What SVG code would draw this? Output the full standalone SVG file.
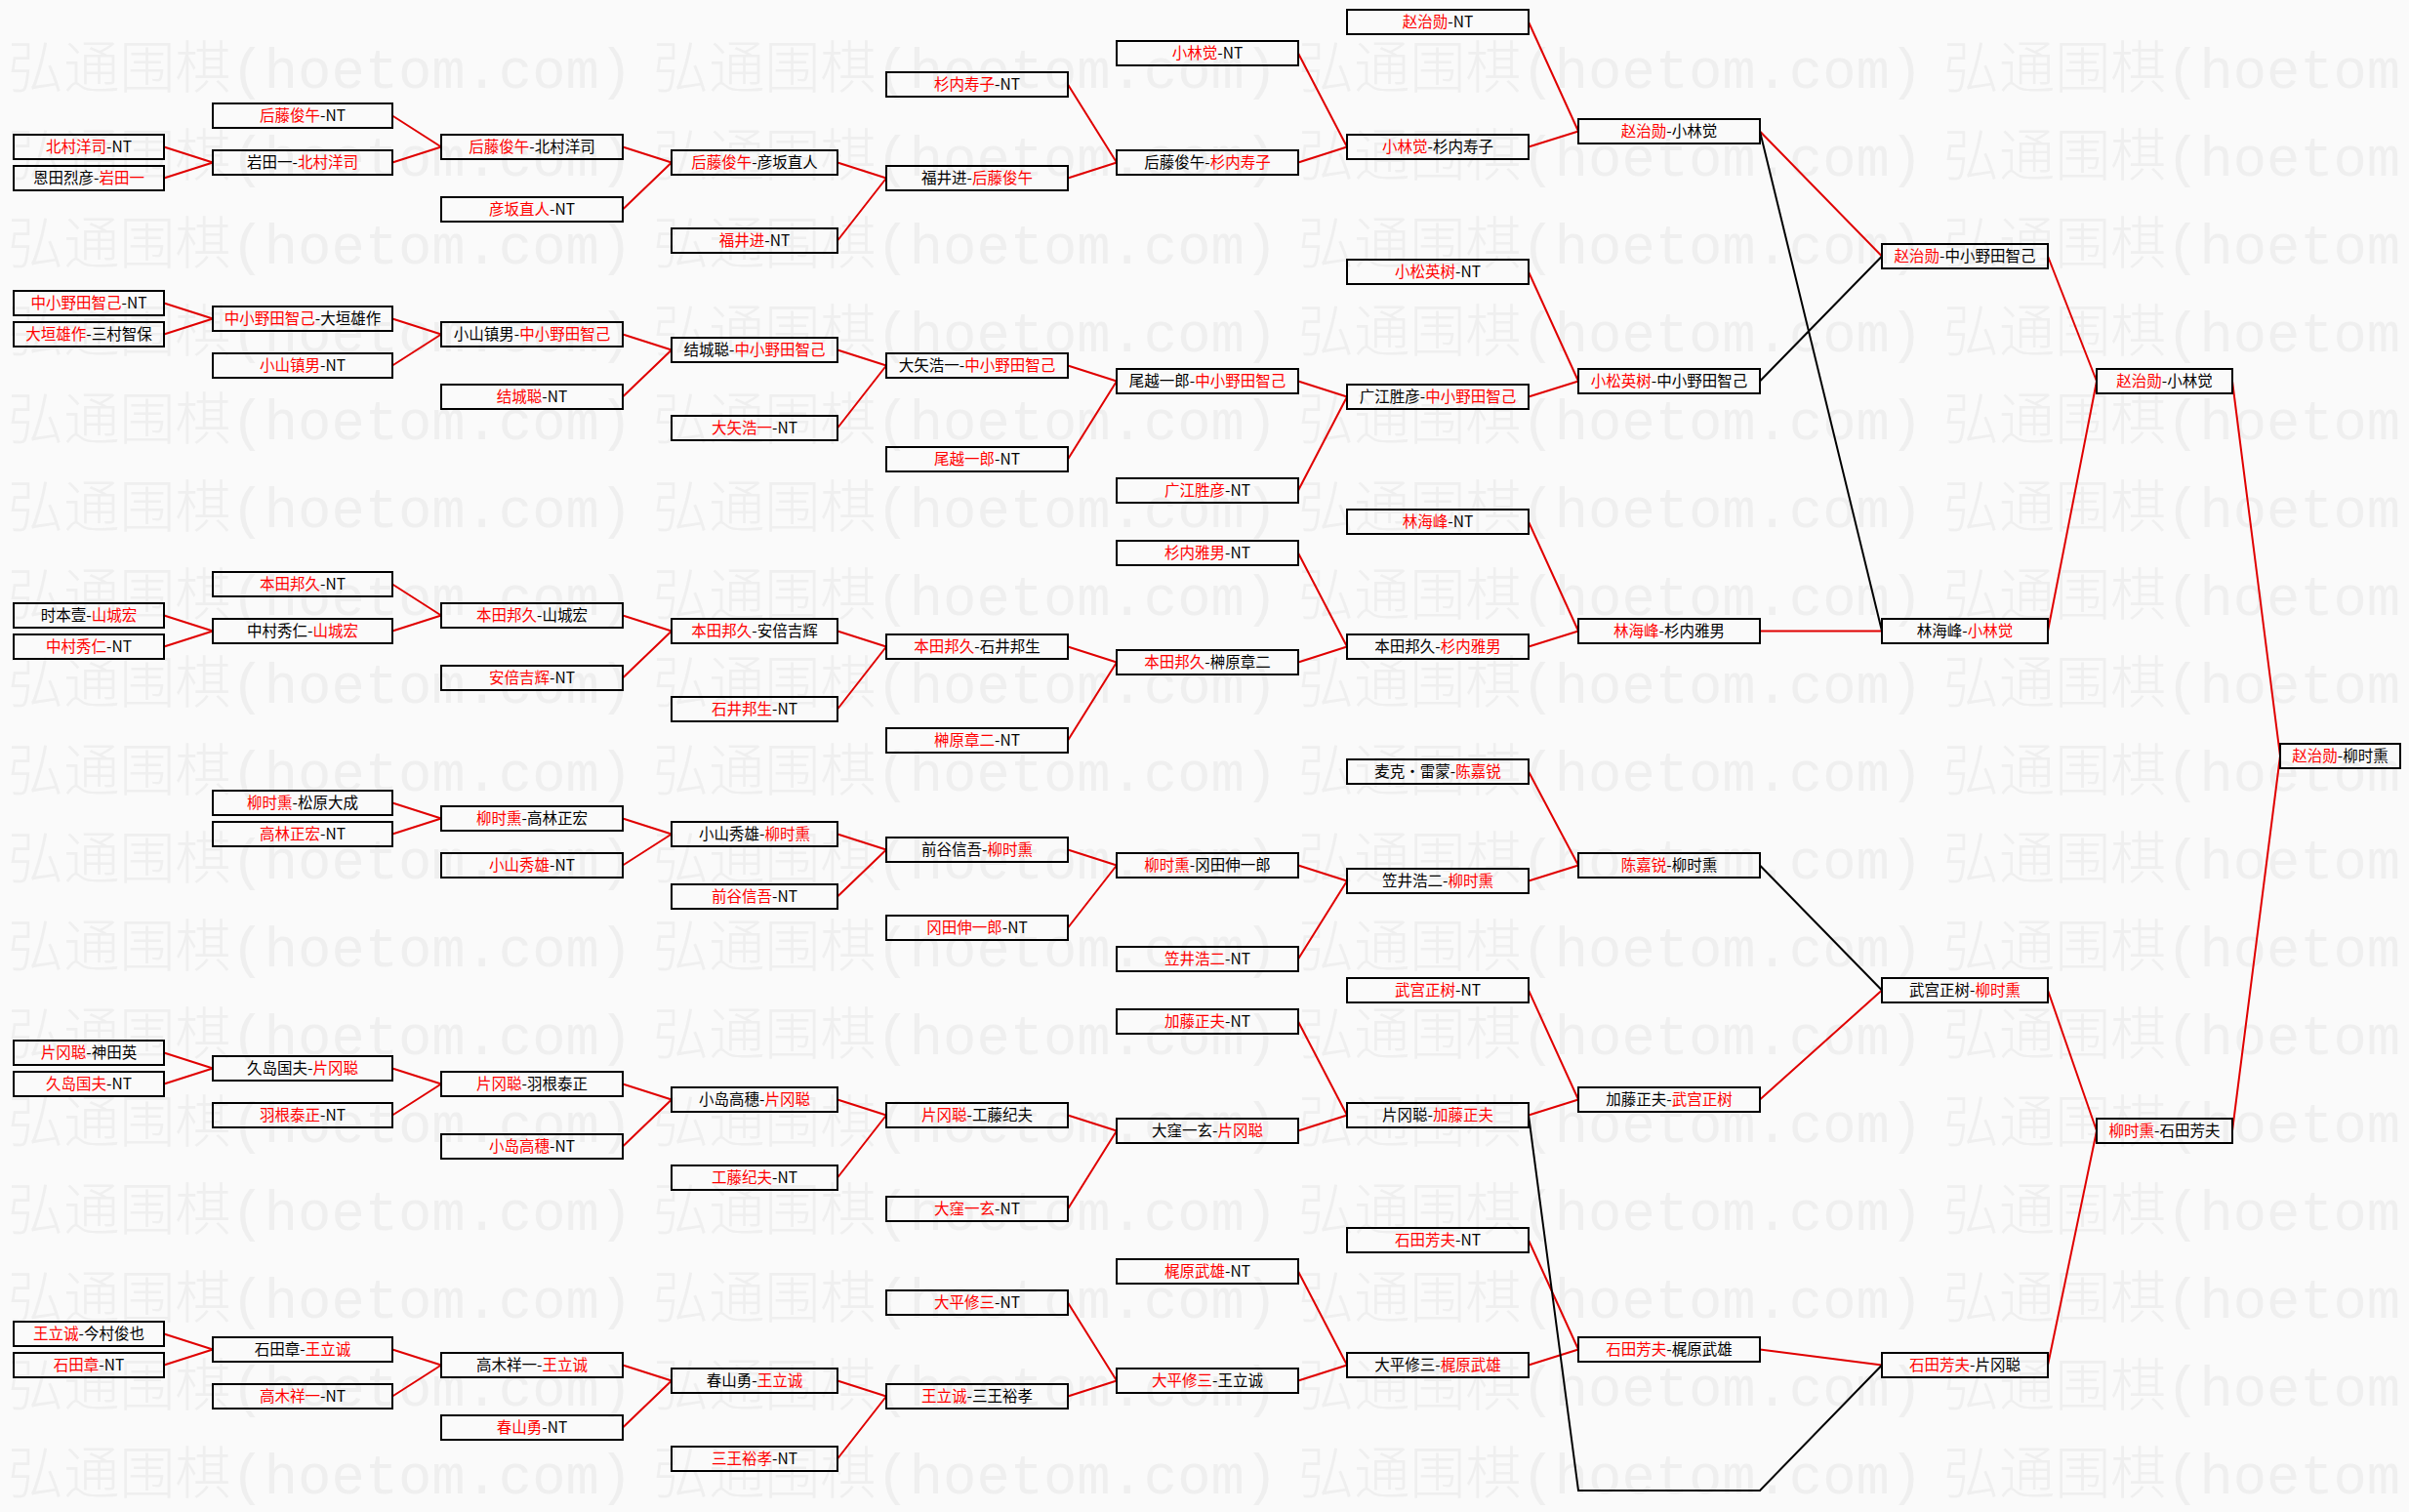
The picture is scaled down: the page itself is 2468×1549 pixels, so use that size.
<svg xmlns="http://www.w3.org/2000/svg" width="2468" height="1549" viewBox="0 0 2468 1549">
<style>
.wm{font-family:"Liberation Mono","Noto Sans CJK SC",monospace;font-size:58px;font-weight:300;fill:#efefef}
.b{fill:none;stroke:#000;stroke-width:2}
.node text{font-family:"Noto Sans CJK SC","Liberation Sans",sans-serif;font-size:15.5px;fill:#000;text-anchor:middle}
.r{fill:#f00}
.cr{stroke:#e00000;stroke-width:2;fill:none}
.ck{stroke:#000;stroke-width:2;fill:none}
</style>
<rect width="2468" height="1549" fill="#fafafa"/>
<g id="watermark">
<text class="wm" x="8" y="90" textLength="640" lengthAdjust="spacingAndGlyphs">弘通围棋(hoetom.com)</text><text class="wm" x="669" y="90" textLength="640" lengthAdjust="spacingAndGlyphs">弘通围棋(hoetom.com)</text><text class="wm" x="1330" y="90" textLength="640" lengthAdjust="spacingAndGlyphs">弘通围棋(hoetom.com)</text><text class="wm" x="1991" y="90" textLength="468" lengthAdjust="spacingAndGlyphs">弘通围棋(hoetom</text>
<text class="wm" x="8" y="180" textLength="640" lengthAdjust="spacingAndGlyphs">弘通围棋(hoetom.com)</text><text class="wm" x="669" y="180" textLength="640" lengthAdjust="spacingAndGlyphs">弘通围棋(hoetom.com)</text><text class="wm" x="1330" y="180" textLength="640" lengthAdjust="spacingAndGlyphs">弘通围棋(hoetom.com)</text><text class="wm" x="1991" y="180" textLength="468" lengthAdjust="spacingAndGlyphs">弘通围棋(hoetom</text>
<text class="wm" x="8" y="270" textLength="640" lengthAdjust="spacingAndGlyphs">弘通围棋(hoetom.com)</text><text class="wm" x="669" y="270" textLength="640" lengthAdjust="spacingAndGlyphs">弘通围棋(hoetom.com)</text><text class="wm" x="1330" y="270" textLength="640" lengthAdjust="spacingAndGlyphs">弘通围棋(hoetom.com)</text><text class="wm" x="1991" y="270" textLength="468" lengthAdjust="spacingAndGlyphs">弘通围棋(hoetom</text>
<text class="wm" x="8" y="360" textLength="640" lengthAdjust="spacingAndGlyphs">弘通围棋(hoetom.com)</text><text class="wm" x="669" y="360" textLength="640" lengthAdjust="spacingAndGlyphs">弘通围棋(hoetom.com)</text><text class="wm" x="1330" y="360" textLength="640" lengthAdjust="spacingAndGlyphs">弘通围棋(hoetom.com)</text><text class="wm" x="1991" y="360" textLength="468" lengthAdjust="spacingAndGlyphs">弘通围棋(hoetom</text>
<text class="wm" x="8" y="450" textLength="640" lengthAdjust="spacingAndGlyphs">弘通围棋(hoetom.com)</text><text class="wm" x="669" y="450" textLength="640" lengthAdjust="spacingAndGlyphs">弘通围棋(hoetom.com)</text><text class="wm" x="1330" y="450" textLength="640" lengthAdjust="spacingAndGlyphs">弘通围棋(hoetom.com)</text><text class="wm" x="1991" y="450" textLength="468" lengthAdjust="spacingAndGlyphs">弘通围棋(hoetom</text>
<text class="wm" x="8" y="540" textLength="640" lengthAdjust="spacingAndGlyphs">弘通围棋(hoetom.com)</text><text class="wm" x="669" y="540" textLength="640" lengthAdjust="spacingAndGlyphs">弘通围棋(hoetom.com)</text><text class="wm" x="1330" y="540" textLength="640" lengthAdjust="spacingAndGlyphs">弘通围棋(hoetom.com)</text><text class="wm" x="1991" y="540" textLength="468" lengthAdjust="spacingAndGlyphs">弘通围棋(hoetom</text>
<text class="wm" x="8" y="630" textLength="640" lengthAdjust="spacingAndGlyphs">弘通围棋(hoetom.com)</text><text class="wm" x="669" y="630" textLength="640" lengthAdjust="spacingAndGlyphs">弘通围棋(hoetom.com)</text><text class="wm" x="1330" y="630" textLength="640" lengthAdjust="spacingAndGlyphs">弘通围棋(hoetom.com)</text><text class="wm" x="1991" y="630" textLength="468" lengthAdjust="spacingAndGlyphs">弘通围棋(hoetom</text>
<text class="wm" x="8" y="720" textLength="640" lengthAdjust="spacingAndGlyphs">弘通围棋(hoetom.com)</text><text class="wm" x="669" y="720" textLength="640" lengthAdjust="spacingAndGlyphs">弘通围棋(hoetom.com)</text><text class="wm" x="1330" y="720" textLength="640" lengthAdjust="spacingAndGlyphs">弘通围棋(hoetom.com)</text><text class="wm" x="1991" y="720" textLength="468" lengthAdjust="spacingAndGlyphs">弘通围棋(hoetom</text>
<text class="wm" x="8" y="810" textLength="640" lengthAdjust="spacingAndGlyphs">弘通围棋(hoetom.com)</text><text class="wm" x="669" y="810" textLength="640" lengthAdjust="spacingAndGlyphs">弘通围棋(hoetom.com)</text><text class="wm" x="1330" y="810" textLength="640" lengthAdjust="spacingAndGlyphs">弘通围棋(hoetom.com)</text><text class="wm" x="1991" y="810" textLength="468" lengthAdjust="spacingAndGlyphs">弘通围棋(hoetom</text>
<text class="wm" x="8" y="900" textLength="640" lengthAdjust="spacingAndGlyphs">弘通围棋(hoetom.com)</text><text class="wm" x="669" y="900" textLength="640" lengthAdjust="spacingAndGlyphs">弘通围棋(hoetom.com)</text><text class="wm" x="1330" y="900" textLength="640" lengthAdjust="spacingAndGlyphs">弘通围棋(hoetom.com)</text><text class="wm" x="1991" y="900" textLength="468" lengthAdjust="spacingAndGlyphs">弘通围棋(hoetom</text>
<text class="wm" x="8" y="990" textLength="640" lengthAdjust="spacingAndGlyphs">弘通围棋(hoetom.com)</text><text class="wm" x="669" y="990" textLength="640" lengthAdjust="spacingAndGlyphs">弘通围棋(hoetom.com)</text><text class="wm" x="1330" y="990" textLength="640" lengthAdjust="spacingAndGlyphs">弘通围棋(hoetom.com)</text><text class="wm" x="1991" y="990" textLength="468" lengthAdjust="spacingAndGlyphs">弘通围棋(hoetom</text>
<text class="wm" x="8" y="1080" textLength="640" lengthAdjust="spacingAndGlyphs">弘通围棋(hoetom.com)</text><text class="wm" x="669" y="1080" textLength="640" lengthAdjust="spacingAndGlyphs">弘通围棋(hoetom.com)</text><text class="wm" x="1330" y="1080" textLength="640" lengthAdjust="spacingAndGlyphs">弘通围棋(hoetom.com)</text><text class="wm" x="1991" y="1080" textLength="468" lengthAdjust="spacingAndGlyphs">弘通围棋(hoetom</text>
<text class="wm" x="8" y="1170" textLength="640" lengthAdjust="spacingAndGlyphs">弘通围棋(hoetom.com)</text><text class="wm" x="669" y="1170" textLength="640" lengthAdjust="spacingAndGlyphs">弘通围棋(hoetom.com)</text><text class="wm" x="1330" y="1170" textLength="640" lengthAdjust="spacingAndGlyphs">弘通围棋(hoetom.com)</text><text class="wm" x="1991" y="1170" textLength="468" lengthAdjust="spacingAndGlyphs">弘通围棋(hoetom</text>
<text class="wm" x="8" y="1260" textLength="640" lengthAdjust="spacingAndGlyphs">弘通围棋(hoetom.com)</text><text class="wm" x="669" y="1260" textLength="640" lengthAdjust="spacingAndGlyphs">弘通围棋(hoetom.com)</text><text class="wm" x="1330" y="1260" textLength="640" lengthAdjust="spacingAndGlyphs">弘通围棋(hoetom.com)</text><text class="wm" x="1991" y="1260" textLength="468" lengthAdjust="spacingAndGlyphs">弘通围棋(hoetom</text>
<text class="wm" x="8" y="1350" textLength="640" lengthAdjust="spacingAndGlyphs">弘通围棋(hoetom.com)</text><text class="wm" x="669" y="1350" textLength="640" lengthAdjust="spacingAndGlyphs">弘通围棋(hoetom.com)</text><text class="wm" x="1330" y="1350" textLength="640" lengthAdjust="spacingAndGlyphs">弘通围棋(hoetom.com)</text><text class="wm" x="1991" y="1350" textLength="468" lengthAdjust="spacingAndGlyphs">弘通围棋(hoetom</text>
<text class="wm" x="8" y="1440" textLength="640" lengthAdjust="spacingAndGlyphs">弘通围棋(hoetom.com)</text><text class="wm" x="669" y="1440" textLength="640" lengthAdjust="spacingAndGlyphs">弘通围棋(hoetom.com)</text><text class="wm" x="1330" y="1440" textLength="640" lengthAdjust="spacingAndGlyphs">弘通围棋(hoetom.com)</text><text class="wm" x="1991" y="1440" textLength="468" lengthAdjust="spacingAndGlyphs">弘通围棋(hoetom</text>
<text class="wm" x="8" y="1530" textLength="640" lengthAdjust="spacingAndGlyphs">弘通围棋(hoetom.com)</text><text class="wm" x="669" y="1530" textLength="640" lengthAdjust="spacingAndGlyphs">弘通围棋(hoetom.com)</text><text class="wm" x="1330" y="1530" textLength="640" lengthAdjust="spacingAndGlyphs">弘通围棋(hoetom.com)</text><text class="wm" x="1991" y="1530" textLength="468" lengthAdjust="spacingAndGlyphs">弘通围棋(hoetom</text>
</g>
<g id="connectors">
<path class="cr" d="M168 150.5L218 166.5M168 182.5L218 166.5M168 310.5L218 326.5M168 342.5L218 326.5M168 630.5L218 646.5M168 662.5L218 646.5M168 1078.5L218 1094.5M168 1110.5L218 1094.5M168 1366.5L218 1382.5M168 1398.5L218 1382.5"/>
<path class="cr" d="M402 118.5L452 150.5M402 166.5L452 150.5M402 326.5L452 342.5M402 374.5L452 342.5M402 598.5L452 630.5M402 646.5L452 630.5M402 822.5L452 838.5M402 854.5L452 838.5M402 1094.5L452 1110.5M402 1142.5L452 1110.5M402 1382.5L452 1398.5M402 1430.5L452 1398.5"/>
<path class="cr" d="M638 150.5L688 166.5M638 214.5L688 166.5M638 342.5L688 358.5M638 406.5L688 358.5M638 630.5L688 646.5M638 694.5L688 646.5M638 838.5L688 854.5M638 886.5L688 854.5M638 1110.5L688 1126.5M638 1174.5L688 1126.5M638 1398.5L688 1414.5M638 1462.5L688 1414.5"/>
<path class="cr" d="M858 166.5L908 182.5M858 246.5L908 182.5M858 358.5L908 374.5M858 438.5L908 374.5M858 646.5L908 662.5M858 726.5L908 662.5M858 854.5L908 870.5M858 918.5L908 870.5M858 1126.5L908 1142.5M858 1206.5L908 1142.5M858 1414.5L908 1430.5M858 1494.5L908 1430.5"/>
<path class="cr" d="M1094 86.5L1144 166.5M1094 182.5L1144 166.5M1094 374.5L1144 390.5M1094 470.5L1144 390.5M1094 662.5L1144 678.5M1094 758.5L1144 678.5M1094 870.5L1144 886.5M1094 950.5L1144 886.5M1094 1142.5L1144 1158.5M1094 1238.5L1144 1158.5M1094 1334.5L1144 1414.5M1094 1430.5L1144 1414.5"/>
<path class="cr" d="M1330 54.5L1380 150.5M1330 166.5L1380 150.5M1330 390.5L1380 406.5M1330 502.5L1380 406.5M1330 566.5L1380 662.5M1330 678.5L1380 662.5M1330 886.5L1380 902.5M1330 982.5L1380 902.5M1330 1046.5L1380 1142.5M1330 1158.5L1380 1142.5M1330 1302.5L1380 1398.5M1330 1414.5L1380 1398.5"/>
<path class="cr" d="M1566 22.5L1617 134.5M1566 150.5L1617 134.5M1566 278.5L1617 390.5M1566 406.5L1617 390.5M1566 534.5L1617 646.5M1566 662.5L1617 646.5M1566 790.5L1617 886.5M1566 902.5L1617 886.5M1566 1014.5L1617 1126.5M1566 1142.5L1617 1126.5M1566 1270.5L1617 1382.5M1566 1398.5L1617 1382.5"/>
<path class="cr" d="M1803 134.5L1928 262.5M1803 646.5L1928 646.5M1803 1126.5L1928 1014.5M1803 1382.5L1928 1398.5"/>
<path class="ck" d="M1803 390.5L1928 262.5M1803 134.5L1928 646.5M1803 886.5L1928 1014.5"/>
<path class="ck" d="M1566 1142.5L1617 1527L1803 1527L1928 1398.5"/>
<path class="cr" d="M2098 262.5L2148 390.5M2098 646.5L2148 390.5M2098 1014.5L2148 1158.5M2098 1398.5L2148 1158.5"/>
<path class="cr" d="M2287 390.5L2336 774.5M2287 1158.5L2336 774.5"/>
</g>
<g id="c0">
<g id="n0-8" class="node"><rect class="b" x="14" y="138" width="154" height="25"/><text x="91" y="156"><tspan class="r">北村洋司</tspan>-NT</text></g>
<g id="n0-10" class="node"><rect class="b" x="14" y="170" width="154" height="25"/><text x="91" y="188">恩田烈彦-<tspan class="r">岩田一</tspan></text></g>
<g id="n0-18" class="node"><rect class="b" x="14" y="298" width="154" height="25"/><text x="91" y="316"><tspan class="r">中小野田智己</tspan>-NT</text></g>
<g id="n0-20" class="node"><rect class="b" x="14" y="330" width="154" height="25"/><text x="91" y="348"><tspan class="r">大垣雄作</tspan>-三村智保</text></g>
<g id="n0-38" class="node"><rect class="b" x="14" y="618" width="154" height="25"/><text x="91" y="636">时本壹-<tspan class="r">山城宏</tspan></text></g>
<g id="n0-40" class="node"><rect class="b" x="14" y="650" width="154" height="25"/><text x="91" y="668"><tspan class="r">中村秀仁</tspan>-NT</text></g>
<g id="n0-66" class="node"><rect class="b" x="14" y="1066" width="154" height="25"/><text x="91" y="1084"><tspan class="r">片冈聪</tspan>-神田英</text></g>
<g id="n0-68" class="node"><rect class="b" x="14" y="1098" width="154" height="25"/><text x="91" y="1116"><tspan class="r">久岛国夫</tspan>-NT</text></g>
<g id="n0-84" class="node"><rect class="b" x="14" y="1354" width="154" height="25"/><text x="91" y="1372"><tspan class="r">王立诚</tspan>-今村俊也</text></g>
<g id="n0-86" class="node"><rect class="b" x="14" y="1386" width="154" height="25"/><text x="91" y="1404"><tspan class="r">石田章</tspan>-NT</text></g>
</g>
<g id="c1">
<g id="n1-6" class="node"><rect class="b" x="218" y="106" width="184" height="25"/><text x="310" y="124"><tspan class="r">后藤俊午</tspan>-NT</text></g>
<g id="n1-9" class="node"><rect class="b" x="218" y="154" width="184" height="25"/><text x="310" y="172">岩田一-<tspan class="r">北村洋司</tspan></text></g>
<g id="n1-19" class="node"><rect class="b" x="218" y="314" width="184" height="25"/><text x="310" y="332"><tspan class="r">中小野田智己</tspan>-大垣雄作</text></g>
<g id="n1-22" class="node"><rect class="b" x="218" y="362" width="184" height="25"/><text x="310" y="380"><tspan class="r">小山镇男</tspan>-NT</text></g>
<g id="n1-36" class="node"><rect class="b" x="218" y="586" width="184" height="25"/><text x="310" y="604"><tspan class="r">本田邦久</tspan>-NT</text></g>
<g id="n1-39" class="node"><rect class="b" x="218" y="634" width="184" height="25"/><text x="310" y="652">中村秀仁-<tspan class="r">山城宏</tspan></text></g>
<g id="n1-50" class="node"><rect class="b" x="218" y="810" width="184" height="25"/><text x="310" y="828"><tspan class="r">柳时熏</tspan>-松原大成</text></g>
<g id="n1-52" class="node"><rect class="b" x="218" y="842" width="184" height="25"/><text x="310" y="860"><tspan class="r">高林正宏</tspan>-NT</text></g>
<g id="n1-67" class="node"><rect class="b" x="218" y="1082" width="184" height="25"/><text x="310" y="1100">久岛国夫-<tspan class="r">片冈聪</tspan></text></g>
<g id="n1-70" class="node"><rect class="b" x="218" y="1130" width="184" height="25"/><text x="310" y="1148"><tspan class="r">羽根泰正</tspan>-NT</text></g>
<g id="n1-85" class="node"><rect class="b" x="218" y="1370" width="184" height="25"/><text x="310" y="1388">石田章-<tspan class="r">王立诚</tspan></text></g>
<g id="n1-88" class="node"><rect class="b" x="218" y="1418" width="184" height="25"/><text x="310" y="1436"><tspan class="r">高木祥一</tspan>-NT</text></g>
</g>
<g id="c2">
<g id="n2-8" class="node"><rect class="b" x="452" y="138" width="186" height="25"/><text x="545" y="156"><tspan class="r">后藤俊午</tspan>-北村洋司</text></g>
<g id="n2-12" class="node"><rect class="b" x="452" y="202" width="186" height="25"/><text x="545" y="220"><tspan class="r">彦坂直人</tspan>-NT</text></g>
<g id="n2-20" class="node"><rect class="b" x="452" y="330" width="186" height="25"/><text x="545" y="348">小山镇男-<tspan class="r">中小野田智己</tspan></text></g>
<g id="n2-24" class="node"><rect class="b" x="452" y="394" width="186" height="25"/><text x="545" y="412"><tspan class="r">结城聪</tspan>-NT</text></g>
<g id="n2-38" class="node"><rect class="b" x="452" y="618" width="186" height="25"/><text x="545" y="636"><tspan class="r">本田邦久</tspan>-山城宏</text></g>
<g id="n2-42" class="node"><rect class="b" x="452" y="682" width="186" height="25"/><text x="545" y="700"><tspan class="r">安倍吉辉</tspan>-NT</text></g>
<g id="n2-51" class="node"><rect class="b" x="452" y="826" width="186" height="25"/><text x="545" y="844"><tspan class="r">柳时熏</tspan>-高林正宏</text></g>
<g id="n2-54" class="node"><rect class="b" x="452" y="874" width="186" height="25"/><text x="545" y="892"><tspan class="r">小山秀雄</tspan>-NT</text></g>
<g id="n2-68" class="node"><rect class="b" x="452" y="1098" width="186" height="25"/><text x="545" y="1116"><tspan class="r">片冈聪</tspan>-羽根泰正</text></g>
<g id="n2-72" class="node"><rect class="b" x="452" y="1162" width="186" height="25"/><text x="545" y="1180"><tspan class="r">小岛高穗</tspan>-NT</text></g>
<g id="n2-86" class="node"><rect class="b" x="452" y="1386" width="186" height="25"/><text x="545" y="1404">高木祥一-<tspan class="r">王立诚</tspan></text></g>
<g id="n2-90" class="node"><rect class="b" x="452" y="1450" width="186" height="25"/><text x="545" y="1468"><tspan class="r">春山勇</tspan>-NT</text></g>
</g>
<g id="c3">
<g id="n3-9" class="node"><rect class="b" x="688" y="154" width="170" height="25"/><text x="773" y="172"><tspan class="r">后藤俊午</tspan>-彦坂直人</text></g>
<g id="n3-14" class="node"><rect class="b" x="688" y="234" width="170" height="25"/><text x="773" y="252"><tspan class="r">福井进</tspan>-NT</text></g>
<g id="n3-21" class="node"><rect class="b" x="688" y="346" width="170" height="25"/><text x="773" y="364">结城聪-<tspan class="r">中小野田智己</tspan></text></g>
<g id="n3-26" class="node"><rect class="b" x="688" y="426" width="170" height="25"/><text x="773" y="444"><tspan class="r">大矢浩一</tspan>-NT</text></g>
<g id="n3-39" class="node"><rect class="b" x="688" y="634" width="170" height="25"/><text x="773" y="652"><tspan class="r">本田邦久</tspan>-安倍吉辉</text></g>
<g id="n3-44" class="node"><rect class="b" x="688" y="714" width="170" height="25"/><text x="773" y="732"><tspan class="r">石井邦生</tspan>-NT</text></g>
<g id="n3-52" class="node"><rect class="b" x="688" y="842" width="170" height="25"/><text x="773" y="860">小山秀雄-<tspan class="r">柳时熏</tspan></text></g>
<g id="n3-56" class="node"><rect class="b" x="688" y="906" width="170" height="25"/><text x="773" y="924"><tspan class="r">前谷信吾</tspan>-NT</text></g>
<g id="n3-69" class="node"><rect class="b" x="688" y="1114" width="170" height="25"/><text x="773" y="1132">小岛高穗-<tspan class="r">片冈聪</tspan></text></g>
<g id="n3-74" class="node"><rect class="b" x="688" y="1194" width="170" height="25"/><text x="773" y="1212"><tspan class="r">工藤纪夫</tspan>-NT</text></g>
<g id="n3-87" class="node"><rect class="b" x="688" y="1402" width="170" height="25"/><text x="773" y="1420">春山勇-<tspan class="r">王立诚</tspan></text></g>
<g id="n3-92" class="node"><rect class="b" x="688" y="1482" width="170" height="25"/><text x="773" y="1500"><tspan class="r">三王裕孝</tspan>-NT</text></g>
</g>
<g id="c4">
<g id="n4-4" class="node"><rect class="b" x="908" y="74" width="186" height="25"/><text x="1001" y="92"><tspan class="r">杉内寿子</tspan>-NT</text></g>
<g id="n4-10" class="node"><rect class="b" x="908" y="170" width="186" height="25"/><text x="1001" y="188">福井进-<tspan class="r">后藤俊午</tspan></text></g>
<g id="n4-22" class="node"><rect class="b" x="908" y="362" width="186" height="25"/><text x="1001" y="380">大矢浩一-<tspan class="r">中小野田智己</tspan></text></g>
<g id="n4-28" class="node"><rect class="b" x="908" y="458" width="186" height="25"/><text x="1001" y="476"><tspan class="r">尾越一郎</tspan>-NT</text></g>
<g id="n4-40" class="node"><rect class="b" x="908" y="650" width="186" height="25"/><text x="1001" y="668"><tspan class="r">本田邦久</tspan>-石井邦生</text></g>
<g id="n4-46" class="node"><rect class="b" x="908" y="746" width="186" height="25"/><text x="1001" y="764"><tspan class="r">榊原章二</tspan>-NT</text></g>
<g id="n4-53" class="node"><rect class="b" x="908" y="858" width="186" height="25"/><text x="1001" y="876">前谷信吾-<tspan class="r">柳时熏</tspan></text></g>
<g id="n4-58" class="node"><rect class="b" x="908" y="938" width="186" height="25"/><text x="1001" y="956"><tspan class="r">冈田伸一郎</tspan>-NT</text></g>
<g id="n4-70" class="node"><rect class="b" x="908" y="1130" width="186" height="25"/><text x="1001" y="1148"><tspan class="r">片冈聪</tspan>-工藤纪夫</text></g>
<g id="n4-76" class="node"><rect class="b" x="908" y="1226" width="186" height="25"/><text x="1001" y="1244"><tspan class="r">大窪一玄</tspan>-NT</text></g>
<g id="n4-82" class="node"><rect class="b" x="908" y="1322" width="186" height="25"/><text x="1001" y="1340"><tspan class="r">大平修三</tspan>-NT</text></g>
<g id="n4-88" class="node"><rect class="b" x="908" y="1418" width="186" height="25"/><text x="1001" y="1436"><tspan class="r">王立诚</tspan>-三王裕孝</text></g>
</g>
<g id="c5">
<g id="n5-2" class="node"><rect class="b" x="1144" y="42" width="186" height="25"/><text x="1237" y="60"><tspan class="r">小林觉</tspan>-NT</text></g>
<g id="n5-9" class="node"><rect class="b" x="1144" y="154" width="186" height="25"/><text x="1237" y="172">后藤俊午-<tspan class="r">杉内寿子</tspan></text></g>
<g id="n5-23" class="node"><rect class="b" x="1144" y="378" width="186" height="25"/><text x="1237" y="396">尾越一郎-<tspan class="r">中小野田智己</tspan></text></g>
<g id="n5-30" class="node"><rect class="b" x="1144" y="490" width="186" height="25"/><text x="1237" y="508"><tspan class="r">广江胜彦</tspan>-NT</text></g>
<g id="n5-34" class="node"><rect class="b" x="1144" y="554" width="186" height="25"/><text x="1237" y="572"><tspan class="r">杉内雅男</tspan>-NT</text></g>
<g id="n5-41" class="node"><rect class="b" x="1144" y="666" width="186" height="25"/><text x="1237" y="684"><tspan class="r">本田邦久</tspan>-榊原章二</text></g>
<g id="n5-54" class="node"><rect class="b" x="1144" y="874" width="186" height="25"/><text x="1237" y="892"><tspan class="r">柳时熏</tspan>-冈田伸一郎</text></g>
<g id="n5-60" class="node"><rect class="b" x="1144" y="970" width="186" height="25"/><text x="1237" y="988"><tspan class="r">笠井浩二</tspan>-NT</text></g>
<g id="n5-64" class="node"><rect class="b" x="1144" y="1034" width="186" height="25"/><text x="1237" y="1052"><tspan class="r">加藤正夫</tspan>-NT</text></g>
<g id="n5-71" class="node"><rect class="b" x="1144" y="1146" width="186" height="25"/><text x="1237" y="1164">大窪一玄-<tspan class="r">片冈聪</tspan></text></g>
<g id="n5-80" class="node"><rect class="b" x="1144" y="1290" width="186" height="25"/><text x="1237" y="1308"><tspan class="r">梶原武雄</tspan>-NT</text></g>
<g id="n5-87" class="node"><rect class="b" x="1144" y="1402" width="186" height="25"/><text x="1237" y="1420"><tspan class="r">大平修三</tspan>-王立诚</text></g>
</g>
<g id="c6">
<g id="n6-0" class="node"><rect class="b" x="1380" y="10" width="186" height="25"/><text x="1473" y="28"><tspan class="r">赵治勋</tspan>-NT</text></g>
<g id="n6-8" class="node"><rect class="b" x="1380" y="138" width="186" height="25"/><text x="1473" y="156"><tspan class="r">小林觉</tspan>-杉内寿子</text></g>
<g id="n6-16" class="node"><rect class="b" x="1380" y="266" width="186" height="25"/><text x="1473" y="284"><tspan class="r">小松英树</tspan>-NT</text></g>
<g id="n6-24" class="node"><rect class="b" x="1380" y="394" width="186" height="25"/><text x="1473" y="412">广江胜彦-<tspan class="r">中小野田智己</tspan></text></g>
<g id="n6-32" class="node"><rect class="b" x="1380" y="522" width="186" height="25"/><text x="1473" y="540"><tspan class="r">林海峰</tspan>-NT</text></g>
<g id="n6-40" class="node"><rect class="b" x="1380" y="650" width="186" height="25"/><text x="1473" y="668">本田邦久-<tspan class="r">杉内雅男</tspan></text></g>
<g id="n6-48" class="node"><rect class="b" x="1380" y="778" width="186" height="25"/><text x="1473" y="796">麦克·雷蒙-<tspan class="r">陈嘉锐</tspan></text></g>
<g id="n6-55" class="node"><rect class="b" x="1380" y="890" width="186" height="25"/><text x="1473" y="908">笠井浩二-<tspan class="r">柳时熏</tspan></text></g>
<g id="n6-62" class="node"><rect class="b" x="1380" y="1002" width="186" height="25"/><text x="1473" y="1020"><tspan class="r">武宫正树</tspan>-NT</text></g>
<g id="n6-70" class="node"><rect class="b" x="1380" y="1130" width="186" height="25"/><text x="1473" y="1148">片冈聪-<tspan class="r">加藤正夫</tspan></text></g>
<g id="n6-78" class="node"><rect class="b" x="1380" y="1258" width="186" height="25"/><text x="1473" y="1276"><tspan class="r">石田芳夫</tspan>-NT</text></g>
<g id="n6-86" class="node"><rect class="b" x="1380" y="1386" width="186" height="25"/><text x="1473" y="1404">大平修三-<tspan class="r">梶原武雄</tspan></text></g>
</g>
<g id="c7">
<g id="n7-7" class="node"><rect class="b" x="1617" y="122" width="186" height="25"/><text x="1710" y="140"><tspan class="r">赵治勋</tspan>-小林觉</text></g>
<g id="n7-23" class="node"><rect class="b" x="1617" y="378" width="186" height="25"/><text x="1710" y="396"><tspan class="r">小松英树</tspan>-中小野田智己</text></g>
<g id="n7-39" class="node"><rect class="b" x="1617" y="634" width="186" height="25"/><text x="1710" y="652"><tspan class="r">林海峰</tspan>-杉内雅男</text></g>
<g id="n7-54" class="node"><rect class="b" x="1617" y="874" width="186" height="25"/><text x="1710" y="892"><tspan class="r">陈嘉锐</tspan>-柳时熏</text></g>
<g id="n7-69" class="node"><rect class="b" x="1617" y="1114" width="186" height="25"/><text x="1710" y="1132">加藤正夫-<tspan class="r">武宫正树</tspan></text></g>
<g id="n7-85" class="node"><rect class="b" x="1617" y="1370" width="186" height="25"/><text x="1710" y="1388"><tspan class="r">石田芳夫</tspan>-梶原武雄</text></g>
</g>
<g id="c8">
<g id="n8-15" class="node"><rect class="b" x="1928" y="250" width="170" height="25"/><text x="2013" y="268"><tspan class="r">赵治勋</tspan>-中小野田智己</text></g>
<g id="n8-39" class="node"><rect class="b" x="1928" y="634" width="170" height="25"/><text x="2013" y="652">林海峰-<tspan class="r">小林觉</tspan></text></g>
<g id="n8-62" class="node"><rect class="b" x="1928" y="1002" width="170" height="25"/><text x="2013" y="1020">武宫正树-<tspan class="r">柳时熏</tspan></text></g>
<g id="n8-86" class="node"><rect class="b" x="1928" y="1386" width="170" height="25"/><text x="2013" y="1404"><tspan class="r">石田芳夫</tspan>-片冈聪</text></g>
</g>
<g id="c9">
<g id="n9-23" class="node"><rect class="b" x="2148" y="378" width="139" height="25"/><text x="2217.5" y="396"><tspan class="r">赵治勋</tspan>-小林觉</text></g>
<g id="n9-71" class="node"><rect class="b" x="2148" y="1146" width="139" height="25"/><text x="2217.5" y="1164"><tspan class="r">柳时熏</tspan>-石田芳夫</text></g>
</g>
<g id="c10">
<g id="n10-47" class="node"><rect class="b" x="2336" y="762" width="123" height="25"/><text x="2397.5" y="780"><tspan class="r">赵治勋</tspan>-柳时熏</text></g>
</g>
</svg>
